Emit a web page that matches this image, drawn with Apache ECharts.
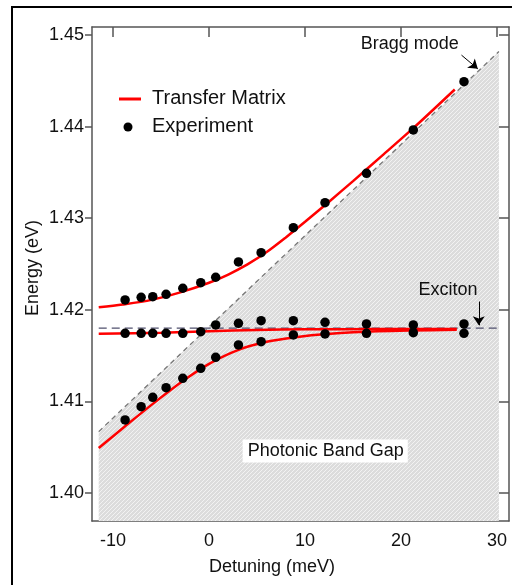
<!DOCTYPE html>
<html>
<head>
<meta charset="utf-8">
<script src="https://cdn.jsdelivr.net/npm/echarts@6/dist/echarts.min.js"></script>
<style>
  html, body { margin: 0; padding: 0; background: #fff; }
  #chart { width: 512px; height: 585px; }
</style>
</head>
<body>
<div id="chart"></div>
<script>
// Measured polariton energies (detuning in meV, energy in eV)
const upperDetuning = [-8.75, -7.08, -5.87, -4.48, -2.74, -0.87, 0.69, 3.06, 5.42, 8.78, 12.08, 16.4, 21.28, 26.56];
const upperEnergy   = [1.42107, 1.42136, 1.42143, 1.42169, 1.42235, 1.42296, 1.42355, 1.42522, 1.42623, 1.42896, 1.43169, 1.43490, 1.43963, 1.44490];

const middleDetuning = [-8.75, -7.08, -5.87, -4.48, -2.74, -0.87, 0.69, 3.06, 5.42, 8.78, 12.08, 16.4, 21.28, 26.56];
const middleEnergy   = [1.41743, 1.41743, 1.41743, 1.41743, 1.41743, 1.41761, 1.41834, 1.41852, 1.41881, 1.41881, 1.41863, 1.41845, 1.41834, 1.41845];

const lowerDetuning = [-8.75, -7.08, -5.87, -4.48, -2.74, -0.87, 0.69, 3.06, 5.42, 8.78, 12.08, 16.4, 21.28, 26.56];
const lowerEnergy   = [1.40797, 1.40942, 1.41044, 1.41150, 1.41252, 1.41361, 1.41481, 1.41616, 1.41652, 1.41725, 1.41736, 1.41743, 1.41750, 1.41743];

// Transfer-matrix calculation, three branches
const tmUpperDetuning = [-11.5, -9, -6, -3, 0, 2, 4, 6, 8, 10, 12.5, 15, 18, 21.3, 25.6];
const tmUpperEnergy   = [1.42027, 1.42058, 1.42108, 1.42190, 1.42295, 1.42385, 1.42495, 1.42630, 1.42790, 1.42960, 1.43180, 1.43405, 1.43680, 1.43985, 1.44405];

const tmMiddleDetuning = [-11.5, -5, 0, 5, 10, 18, 25.8];
const tmMiddleEnergy   = [1.41738, 1.41748, 1.41765, 1.41780, 1.41786, 1.41789, 1.41790];

const tmLowerDetuning = [-11.5, -8.75, -5.8, -2.7, 0, 3, 6, 9, 12.3, 17.5, 25.8];
const tmLowerEnergy   = [1.40490, 1.40728, 1.40978, 1.41225, 1.41410, 1.41560, 1.41650, 1.41700, 1.41735, 1.41765, 1.41782];

// Bare Bragg mode and exciton level
const braggDetuning = [-11.5, 30.2];
const braggEnergy   = [1.4067, 1.4482];
const excitonDetuning = [-11.5, 30.2];
const excitonEnergy   = [1.418, 1.418];

// Axis ticks
const xTicks = [-10, 0, 10, 20, 30];
const yTicks = [1.40, 1.41, 1.42, 1.43, 1.44, 1.45];

const zip = (xs, ys) => xs.map((x, i) => [x, ys[i]]);

const FONT = "'Liberation Sans', Arial, sans-serif";
const TEXT = '#111';
const AXIS = '#555';

// Fine diagonal hatching for the band-gap region
const hatch = document.createElement('canvas');
hatch.width = 4; hatch.height = 4;
const hg = hatch.getContext('2d');
hg.fillStyle = '#dcdcdc';
hg.fillRect(0, 0, 4, 4);
hg.strokeStyle = '#f2f2f2';
hg.lineWidth = 1;
hg.beginPath();
hg.moveTo(-1, 5); hg.lineTo(5, -1);
hg.stroke();

const chart = echarts.init(document.getElementById('chart'), null, { renderer: 'canvas' });

const axisLine = { show: true, onZero: false, lineStyle: { color: AXIS, width: 1.5 } };
const xRange = { min: -12.2, max: 31.25 };
const yRange = { min: 1.39694, max: 1.45087 };

const dots = (xs, ys) => ({
  name: 'Experiment', type: 'scatter', data: zip(xs, ys),
  symbol: 'circle', symbolSize: 9.5,
  itemStyle: { color: '#000', opacity: 1 }, z: 10, silent: true
});
const curve = (xs, ys) => ({
  name: 'Transfer Matrix', type: 'line', data: zip(xs, ys),
  smooth: 0.3, symbol: 'none',
  lineStyle: { color: '#ff0000', width: 2.5 }, z: 8, silent: true
});

const annotationLabel = { show: true, position: 'inside', formatter: '{b}', fontSize: 18, color: TEXT, fontFamily: FONT };
const arrowLine = {
  silent: true, symbol: ['none', 'arrow'], symbolSize: 9,
  label: { show: false },
  lineStyle: { color: '#000', width: 1, type: 'solid' }
};

chart.setOption({
  animation: false,
  backgroundColor: '#fff',
  textStyle: { fontFamily: FONT },
  grid: { left: 92, top: 27, right: 3, bottom: 64, containLabel: false },
  xAxis: [
    {
      type: 'value', position: 'bottom', ...xRange,
      axisLine, splitLine: { show: false },
      axisTick: { show: false },
      axisLabel: { customValues: xTicks, fontSize: 18, color: TEXT, fontFamily: FONT, margin: 11 },
      name: 'Detuning (meV)', nameLocation: 'middle', nameGap: 37,
      nameTextStyle: { fontSize: 18, color: TEXT, fontFamily: FONT, padding: [0, 57, 0, 0] }
    },
    {
      type: 'value', position: 'top', ...xRange,
      axisLine, splitLine: { show: false },
      axisTick: { show: true, inside: true, length: 10, customValues: xTicks, lineStyle: { color: AXIS, width: 1.5 } },
      axisLabel: { show: false }
    }
  ],
  yAxis: [
    {
      type: 'value', position: 'left', ...yRange,
      axisLine, splitLine: { show: false },
      axisTick: { show: true, inside: false, length: 7, customValues: yTicks, lineStyle: { color: AXIS, width: 1.5 } },
      axisLabel: { customValues: yTicks, formatter: v => v.toFixed(2), fontSize: 18, color: TEXT, fontFamily: FONT, margin: 8 },
      name: 'Energy (eV)', nameLocation: 'middle', nameGap: 50, nameMoveOverlap: false,
      nameTextStyle: { fontSize: 18, color: TEXT, fontFamily: FONT, padding: [0, 0, 0, 12] }
    },
    {
      type: 'value', position: 'right', ...yRange,
      axisLine, splitLine: { show: false },
      axisTick: { show: true, inside: true, length: 10, customValues: yTicks, lineStyle: { color: AXIS, width: 1.5 } },
      axisLabel: { show: false }
    }
  ],
  series: [
    {
      name: 'Bragg mode', type: 'line', data: zip(braggDetuning, braggEnergy),
      symbol: 'none', silent: true, z: 2,
      lineStyle: { color: '#777', width: 1.3, type: [5, 4] },
      areaStyle: { color: { image: hatch, repeat: 'repeat' }, origin: 'start', opacity: 1 },
      markLine: { ...arrowLine, data: [[{ coord: [26.3, 1.4478] }, { coord: [28.0, 1.4463] }]] },
      markPoint: {
        silent: true, symbol: 'rect', symbolSize: 1, itemStyle: { color: 'rgba(0,0,0,0)' },
        label: annotationLabel,
        data: [{ name: 'Bragg mode', coord: [20.9, 1.44902] }]
      }
    },
    {
      name: 'Exciton', type: 'line', data: zip(excitonDetuning, excitonEnergy),
      symbol: 'none', silent: true, z: 3,
      lineStyle: { color: '#50506e', width: 1.3, type: [8, 5] },
      markLine: { ...arrowLine, data: [[{ coord: [28.1, 1.4209] }, { coord: [28.1, 1.4183] }]] },
      markPoint: {
        silent: true, symbol: 'rect', symbolSize: 1, itemStyle: { color: 'rgba(0,0,0,0)' },
        label: annotationLabel,
        data: [
          { name: 'Exciton', coord: [24.9, 1.42216] },
          {
            name: 'Photonic Band Gap', coord: [12.1, 1.40459],
            label: { backgroundColor: '#fff', padding: [3, 4, 2, 5] }
          }
        ]
      }
    },
    curve(tmUpperDetuning, tmUpperEnergy),
    curve(tmMiddleDetuning, tmMiddleEnergy),
    curve(tmLowerDetuning, tmLowerEnergy),
    dots(upperDetuning, upperEnergy),
    dots(middleDetuning, middleEnergy),
    dots(lowerDetuning, lowerEnergy)
  ],
  graphic: [
    // figure frame
    { type: 'rect', shape: { x: 12, y: 7, width: 620, height: 700 }, style: { fill: null, stroke: '#000', lineWidth: 2 }, silent: true, z: 0 },
    // legend
    { type: 'line', shape: { x1: 119, y1: 99, x2: 141, y2: 99 }, style: { stroke: '#ff0000', lineWidth: 3 }, z: 20 },
    { type: 'text', left: 152, top: 88, style: { text: 'Transfer Matrix', font: `20px ${FONT}`, fill: TEXT }, z: 20 },
    { type: 'circle', shape: { cx: 128, cy: 127, r: 4.5 }, style: { fill: '#000' }, z: 20 },
    { type: 'text', left: 152, top: 116, style: { text: 'Experiment', font: `20px ${FONT}`, fill: TEXT }, z: 20 }
  ]
});
</script>
</body>
</html>
